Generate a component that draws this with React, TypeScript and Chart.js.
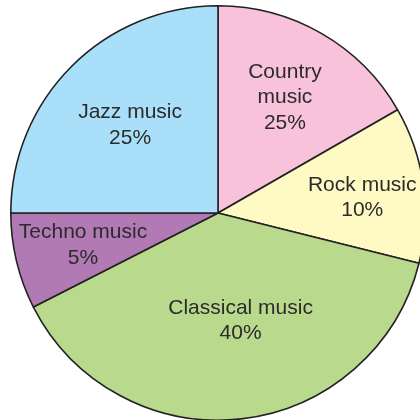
import React, { useEffect, useRef } from "react";
import { Chart, registerables } from "chart.js";

Chart.register(...registerables);

// Slice sizes as drawn in the picture (share of the full circle, %)
const categories = ["Country music", "Rock music", "Classical music", "Techno music", "Jazz music"];
const sliceValues = [16.7, 12.2, 38.6, 7.5, 25.0];
// Percentages printed on the chart
const printedPercents = ["25%", "10%", "40%", "5%", "25%"];
// How each category name is broken into lines
const nameLines = [["Country", "music"], ["Rock music"], ["Classical music"], ["Techno music"], ["Jazz music"]];

const colors = ["#f7c2da", "#fff9c4", "#b9da8d", "#b27ab5", "#a9dff9"];
const labelRadius = [0.645, 0.7, 0.53, 0.67, 0.6];
const labelAngleShiftDeg = [0, 1.8, -5.4, 0, 0];

const labelPlugin = {
  id: "sliceLabels",
  afterDatasetsDraw(chart: any) {
    const ctx = chart.ctx;
    const meta = chart.getDatasetMeta(0);
    ctx.save();
    ctx.font = '21px "Liberation Sans", Arial, sans-serif';
    ctx.fillStyle = "#2b2b2b";
    ctx.textAlign = "center";
    ctx.textBaseline = "middle";
    const lh = 25.5;
    meta.data.forEach((arc: any, i: number) => {
      const mid = (arc.startAngle + arc.endAngle) / 2 + (labelAngleShiftDeg[i] * Math.PI) / 180;
      const r = arc.outerRadius * labelRadius[i];
      const cx = arc.x + Math.cos(mid) * r;
      const cy = arc.y + Math.sin(mid) * r;
      const lines = [...nameLines[i], printedPercents[i]];
      const top = cy - ((lines.length - 1) * lh) / 2;
      lines.forEach((t, k) => ctx.fillText(t, cx, top + k * lh));
    });
    ctx.restore();
  },
};

export default function App() {
  const ref = useRef<HTMLCanvasElement | null>(null);
  useEffect(() => {
    if (!ref.current) return;
    const chart = new Chart(ref.current, {
      type: "pie",
      data: {
        labels: categories,
        datasets: [
          {
            data: sliceValues,
            backgroundColor: colors,
            borderColor: "#222222",
            borderWidth: 1.6,
          },
        ],
      },
      options: {
        responsive: false,
        animation: false,
        layout: { padding: 0 },
        plugins: { legend: { display: false }, tooltip: { enabled: false } },
      },
      plugins: [labelPlugin],
    });
    return () => chart.destroy();
  }, []);
  return (
    <div style={{ position: "fixed", left: 0, top: 0, width: 420, height: 420, overflow: "hidden", background: "#fff" }}>
      <canvas ref={ref} width={416} height={416} style={{ position: "absolute", left: 10, top: 5 }} />
    </div>
  );
}
